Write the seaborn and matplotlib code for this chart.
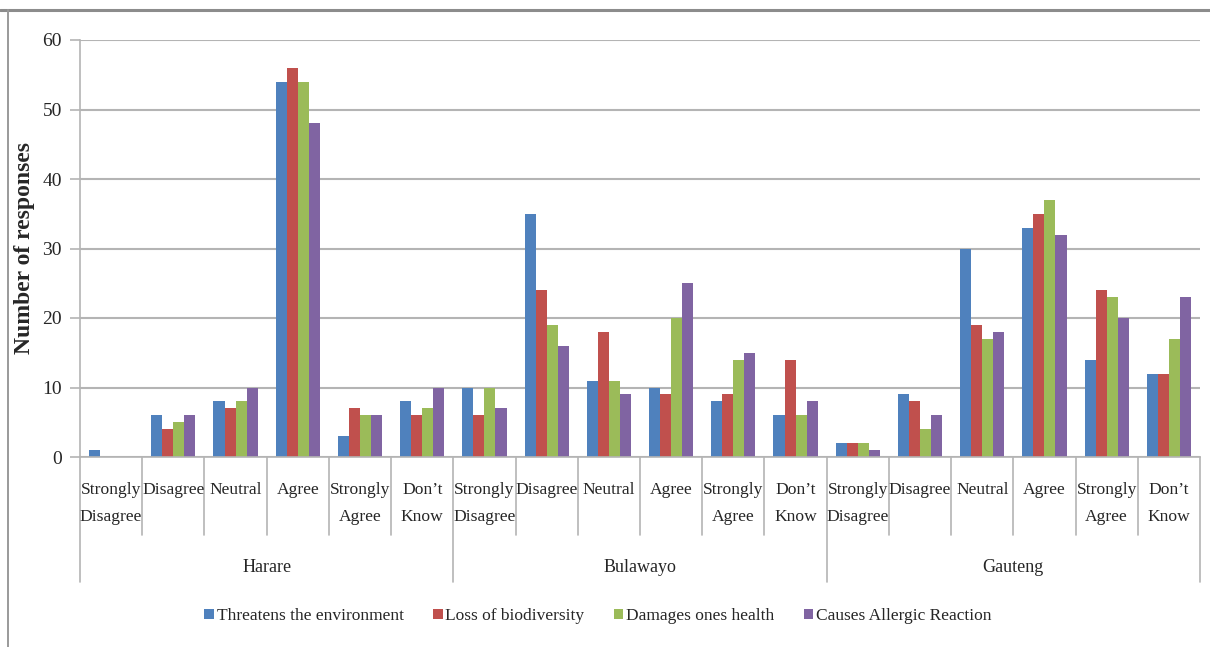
import matplotlib
matplotlib.use("Agg")
import matplotlib.pyplot as plt
import matplotlib.transforms as mtransforms
from matplotlib.patches import Patch
import seaborn as sns
import pandas as pd

# Survey responses per region and statement
regions = ["Harare", "Bulawayo", "Gauteng"]
responses = ["Strongly\nDisagree", "Disagree", "Neutral", "Agree",
             "Strongly\nAgree", "Don\u2019t\nKnow"]
series_names = ["Threatens the environment", "Loss of biodiversity",
                "Damages ones health", "Causes Allergic Reaction"]

threatens = [1, 6, 8, 54, 3, 8, 10, 35, 11, 10, 8, 6, 2, 9, 30, 33, 14, 12]
biodiversity = [0, 4, 7, 56, 7, 6, 6, 24, 18, 9, 9, 14, 2, 8, 19, 35, 24, 12]
health = [0, 5, 8, 54, 6, 7, 10, 19, 11, 20, 14, 6, 2, 4, 17, 37, 23, 17]
allergic = [0, 6, 10, 48, 6, 10, 7, 16, 9, 25, 15, 8, 1, 6, 18, 32, 20, 23]

colors = ["#4F81BD", "#C0504D", "#9BBB59", "#8064A2"]

slots = [f"{r}|{c}" for r in regions for c in responses]
rows = []
for name, vals in zip(series_names, [threatens, biodiversity, health, allergic]):
    for slot, v in zip(slots, vals):
        rows.append({"slot": slot, "series": name, "count": v})
df = pd.DataFrame(rows)

sns.set_theme(style="white")
plt.rcParams["font.family"] = ["Liberation Serif", "DejaVu Serif"]

fig = plt.figure(figsize=(12.1, 6.47), dpi=100)
ax = fig.add_axes([80 / 1210, 1 - 457 / 647, 1120 / 1210, 417 / 647])

sns.barplot(data=df, x="slot", y="count", hue="series", order=slots,
            hue_order=series_names, palette=colors, width=0.71, gap=0,
            saturation=1, edgecolor="none", linewidth=0, ax=ax, legend=False)

grid_c = "#B4B4B4"
ax.set_ylim(0, 60)
ax.set_xlim(-0.5, len(slots) - 0.5)
ax.set_yticks(range(0, 61, 10))
ax.yaxis.grid(True, color=grid_c, linewidth=1.5)
ax.set_axisbelow(True)
for s in ["top", "right"]:
    ax.spines[s].set_visible(False)
for s in ["left", "bottom"]:
    ax.spines[s].set_color(grid_c)
    ax.spines[s].set_linewidth(1.2)
ax.tick_params(axis="y", which="both", left=True, length=7, width=1.2,
               color=grid_c, labelsize=14, pad=6)
ax.set_xticks([])
ax.set_xlabel("")
ax.set_ylabel("Number of responses", fontsize=17, fontweight="bold")
ax.yaxis.set_label_coords(-0.040, 0.5)

# Two-level category axis drawn beneath the plot
trans = mtransforms.blended_transform_factory(ax.transData, ax.transAxes)
n_cat = len(responses)
for i in range(len(slots) + 1):
    x = i - 0.5
    bottom = -0.30 if i % n_cat == 0 else -0.187
    ax.plot([x, x], [0, bottom], transform=trans, color=grid_c,
            linewidth=1.2, clip_on=False)
for i, slot in enumerate(slots):
    label = slot.split("|")[1]
    ax.text(i, -0.06, label, transform=trans, ha="center", va="top",
            fontsize=12.6, linespacing=1.95, clip_on=False)
for g, region in enumerate(regions):
    xc = g * n_cat + (n_cat - 1) / 2
    ax.text(xc, -0.264, region, transform=trans, ha="center", va="center",
            fontsize=13, clip_on=False)

handles = [Patch(facecolor=c, edgecolor="none") for c in colors]
fig.legend(handles, series_names, loc="center", ncol=4,
           bbox_to_anchor=(598 / 1210, 1 - 616 / 647), frameon=False,
           fontsize=12.5, handlelength=0.55, handleheight=0.55,
           handletextpad=0.15, columnspacing=1.7)

# Outer frame lines along the top and left of the figure
fig.add_artist(plt.Line2D([0, 1], [1 - 10 / 647, 1 - 10 / 647],
                          transform=fig.transFigure, color="#8C8C8C", linewidth=2.2))
fig.add_artist(plt.Line2D([8 / 1210, 8 / 1210], [0, 1 - 10 / 647],
                          transform=fig.transFigure, color="#9A9A9A", linewidth=1.4))

fig.savefig("out.png", dpi=100)
